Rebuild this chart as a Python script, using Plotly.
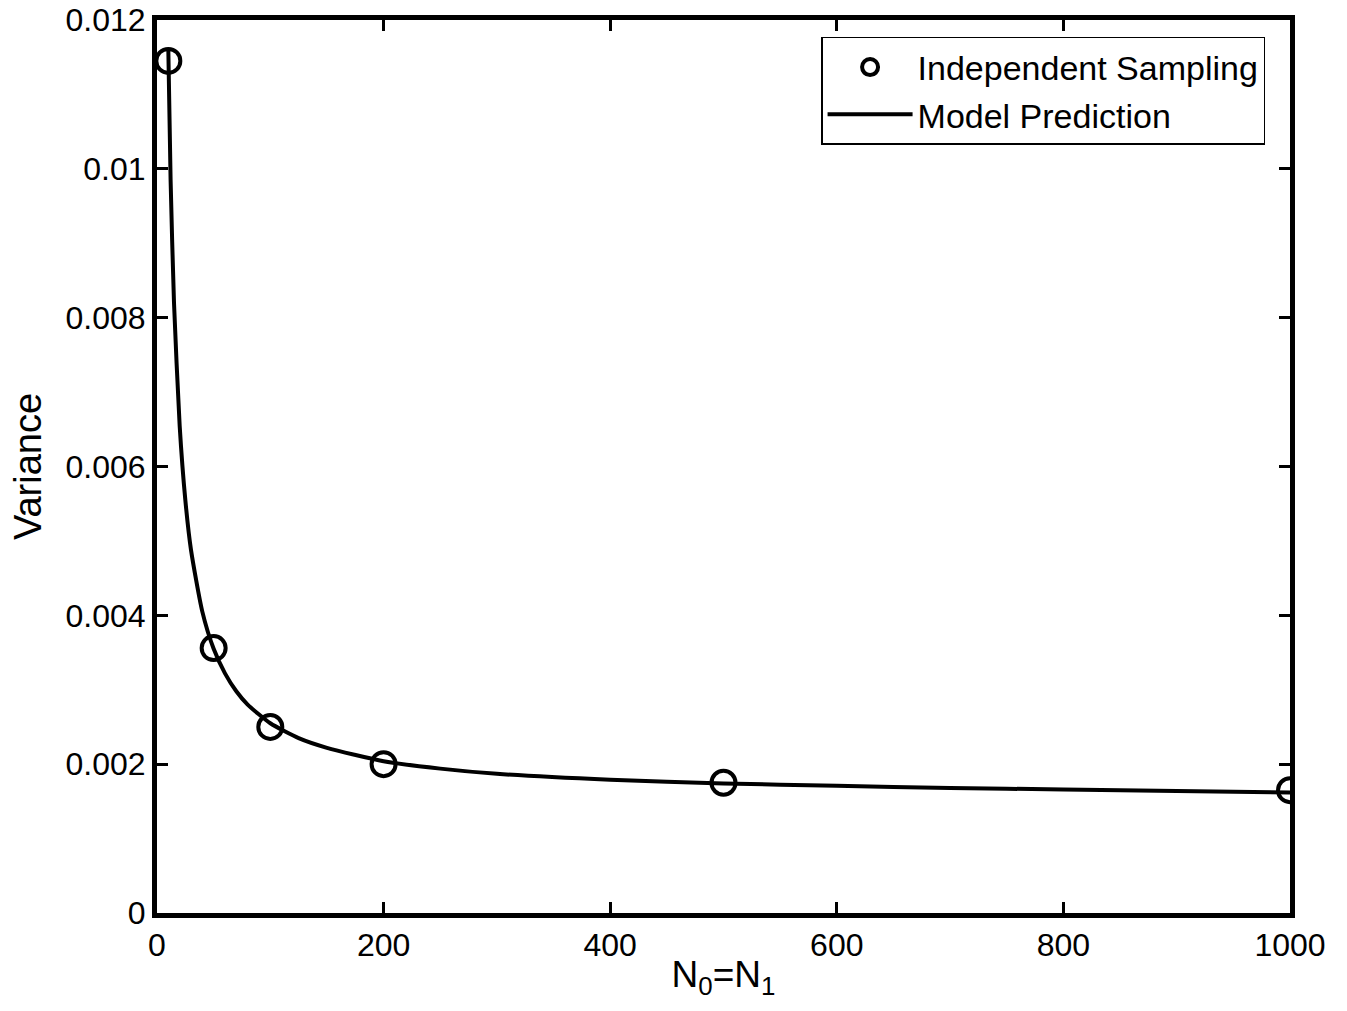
import plotly.graph_objects as go

# Sample sizes (N0 = N1) and measured variance from independent sampling
sample_sizes = [10, 50, 100, 200, 500, 1000]
sampled_variance = [0.01145, 0.00356, 0.00250, 0.00200, 0.00175, 0.00165]

# Model prediction curve
model_n = [10, 12, 15, 20, 25, 30, 40, 50, 60, 70, 80, 100, 125, 150, 200,
           250, 300, 400, 500, 600, 700, 800, 900, 1000]
model_variance = [0.01160, 0.00985, 0.00820, 0.00655, 0.00555, 0.00488, 0.00405,
                  0.00355, 0.00322, 0.00298, 0.00280, 0.00255, 0.00235, 0.00222,
                  0.00204, 0.00194, 0.00187, 0.00179, 0.00174, 0.00171, 0.00168,
                  0.00166, 0.00164, 0.00162]

x_ticks = [0, 200, 400, 600, 800, 1000]
y_ticks = [0, 0.002, 0.004, 0.006, 0.008, 0.01, 0.012]
y_tick_text = ["0", "0.002", "0.004", "0.006", "0.008", "0.01", "0.012"]

FONT = "Liberation Sans, Arial, Helvetica, sans-serif"

fig = go.Figure()

fig.add_trace(go.Scatter(
    x=sample_sizes, y=sampled_variance,
    mode="markers",
    name="Independent Sampling",
    marker=dict(symbol="circle-open", size=24, color="black",
                line=dict(width=4, color="black")),
))

fig.add_trace(go.Scatter(
    x=model_n, y=model_variance,
    mode="lines",
    name="Model Prediction",
    line=dict(color="black", width=4, shape="spline", smoothing=0.6),
))

axis_common = dict(
    showgrid=False, zeroline=False, automargin=False,
    showline=True, linecolor="black", linewidth=5,
    mirror="ticks", ticks="inside", ticklen=11, tickwidth=3,
    tickcolor="black",
    tickfont=dict(family=FONT, size=32, color="black"),
)

fig.update_xaxes(
    range=[0, 1000], tickvals=x_ticks,
    ticktext=[str(v) for v in x_ticks],
    title=dict(text="N<sub>0</sub>=N<sub>1</sub>",
               font=dict(family=FONT, size=37, color="black"), standoff=0),
    **axis_common,
)
fig.update_yaxes(
    range=[0, 0.012], tickvals=y_ticks, ticktext=y_tick_text,
    title=dict(text="Variance",
               font=dict(family=FONT, size=38, color="black"), standoff=14),
    **axis_common,
)

fig.update_layout(
    width=1347, height=1011,
    margin=dict(l=157, r=57, t=20, b=98),
    paper_bgcolor="white", plot_bgcolor="white",
    showlegend=True,
    legend=dict(
        x=0.978, y=0.981, xanchor="right", yanchor="top",
        bgcolor="white", bordercolor="black", borderwidth=1.5,
        font=dict(family=FONT, size=34, color="black"),
        itemwidth=85, tracegroupgap=0,
    ),
)

fig.write_html("out.html")
